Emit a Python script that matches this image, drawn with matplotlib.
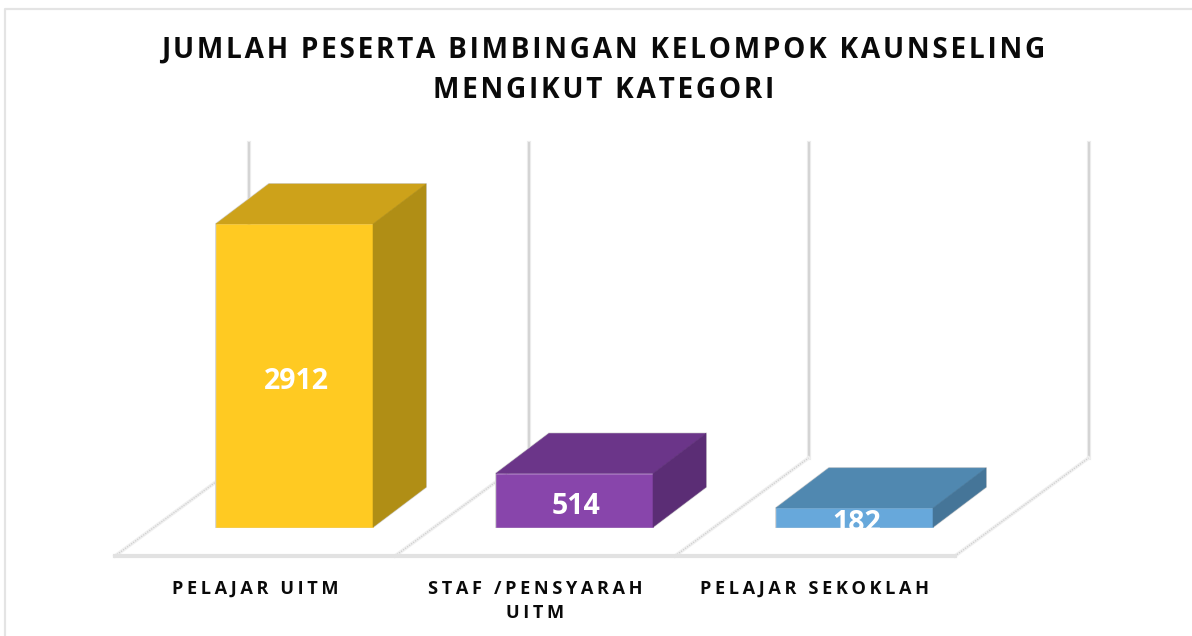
import matplotlib
matplotlib.use('Agg')
import matplotlib.pyplot as plt
from matplotlib.patches import Polygon

plt.rcParams['font.family'] = ['Open Sans', 'DejaVu Sans']

title_lines = ['JUMLAH PESERTA BIMBINGAN KELOMPOK KAUNSELING', 'MENGIKUT KATEGORI']
categories = ['PELAJAR UITM', 'STAF /PENSYARAH\nUITM', 'PELAJAR SEKOKLAH']
values = [2912, 514, 182]
front_colors = ['#FFCA22', '#8845AB', '#67A8DB']
top_colors = ['#CDA21A', '#6B3589', '#5088B0']
side_colors = ['#B08E15', '#5B2D75', '#457598']

W, H = 1192, 636
PX_X = 280.0  # pixels per category
PX_Y = 303.0 / 2912  # pixels per unit of value
X0, Y0 = 294.5, 527  # first bar centre, baseline in pixels

def sx(px):
    return (px - X0) / PX_X

def sy(px):
    return (Y0 - px) / PX_Y

def spaced(s, gap='\u200a'):
    return '\n'.join(gap.join(line) for line in s.split('\n'))

fig = plt.figure(figsize=(W / 100, H / 100), dpi=100, facecolor='white')
ax = fig.add_axes([0, 0, 1, 1])
ax.set_xlim(sx(0), sx(W))
ax.set_ylim(sy(H), sy(0))
ax.axis('off')

# chart frame, only top and left show in the crop
ax.plot([sx(5), sx(5), sx(W)], [sy(H), sy(9), sy(9)], color='#e4e4e4', lw=1.6)

bar_width = 157 / PX_X
depth_x = 53 / PX_X
depth_y = 40 / PX_Y

# back wall and floor
floor_dx = 133.5 / PX_X
floor_dy = 98 / PX_Y
floor_front = sy(556)
wall_top = sy(143)
for i in range(len(categories) + 1):
    fx = sx(115) + i
    bx = fx + floor_dx
    by = floor_front + floor_dy
    ax.plot([bx, bx], [by, wall_top], color='#ececec', lw=3, zorder=1)
    ax.plot([bx, bx], [by, wall_top], color='#d4d4d4', lw=1.4, zorder=1)
    ax.plot([fx, bx], [floor_front, by], color='#f0f0f0', lw=2.6, zorder=1)
    ax.plot([fx, bx], [floor_front, by], color='#cfcfcf', lw=0.9, ls=(0, (1, 1)), zorder=1)
ax.plot([sx(115), sx(115) + len(categories)], [floor_front, floor_front],
        color='#e2e2e2', lw=3, zorder=1)

for i, v in enumerate(values):
    left = i - bar_width / 2
    right = i + bar_width / 2
    # soft grey outline round the whole block
    ax.add_patch(Polygon([(left, 0), (left, v), (left + depth_x, v + depth_y),
                          (right + depth_x, v + depth_y), (right + depth_x, depth_y),
                          (right, 0)],
                         facecolor='none', edgecolor='#d6d6d6', lw=1.4, zorder=2.5))
    bar = ax.bar(i, v, width=bar_width, color=front_colors[i], edgecolor=front_colors[i],
                 lw=0.4, zorder=3)[0]
    ax.add_patch(Polygon([(left, v), (right, v), (right + depth_x, v + depth_y),
                          (left + depth_x, v + depth_y)],
                         facecolor=top_colors[i], edgecolor=top_colors[i], lw=0.4, zorder=3))
    ax.add_patch(Polygon([(right, 0), (right, v), (right + depth_x, v + depth_y),
                          (right + depth_x, depth_y)],
                         facecolor=side_colors[i], edgecolor=side_colors[i], lw=0.4, zorder=3))
    t = ax.text(i + 2 / PX_X, v / 2 - 60, str(v), color='white', fontsize=20.5,
                fontweight='bold', ha='center', va='center', zorder=4)
    t.set_clip_path(bar)

for k, line in enumerate(title_lines):
    ax.text(sx(603.5), sy(50 + k * 40), spaced(line), fontsize=20.2, fontweight='bold',
            color='#0a0a0a', ha='center', va='center')

for i, c in enumerate(categories):
    ax.text(sx(115) + i + 0.5, sy(579.5), spaced(c, '\u2009'), fontsize=13.1, fontweight='bold',
            color='#0a0a0a', ha='center', va='top', linespacing=1.45)

fig.savefig('out.png', dpi=100)
